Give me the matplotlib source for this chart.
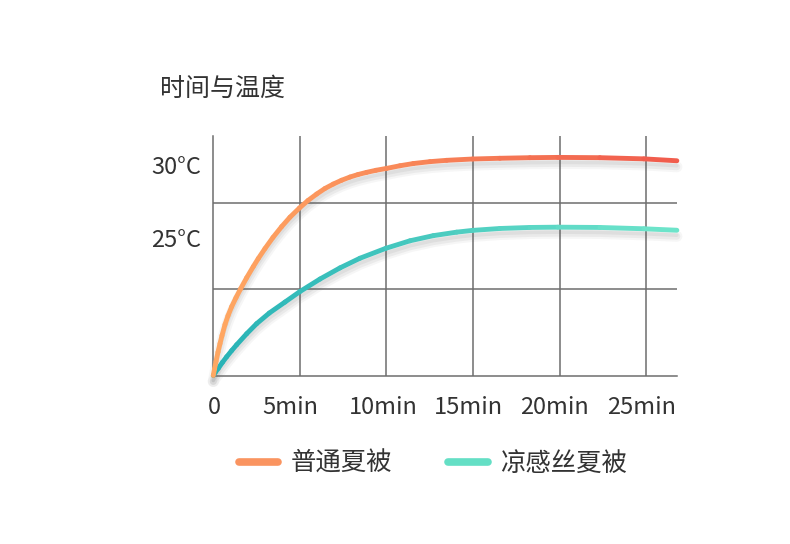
import numpy as np
import matplotlib
matplotlib.use("Agg")
import matplotlib.pyplot as plt
from matplotlib.collections import LineCollection
from matplotlib.colors import LinearSegmentedColormap
from matplotlib.lines import Line2D
import matplotlib.transforms as mtrans

plt.rcParams['font.family'] = ['Noto Sans CJK SC', 'DejaVu Sans']

# ---- data ----
title = "时间与温度"
series_names = ["普通夏被", "凉感丝夏被"]
x_ticks = [0, 5, 10, 15, 20, 25]
x_tick_labels = ["0", "5min", "10min", "15min", "20min", "25min"]
y_ticks = [25, 30]
y_tick_labels = ["25°C", "30°C"]
y_grid = [21.51, 27.39]

t_normal = [0, 0.069, 0.156, 0.271, 0.387, 0.502, 0.676, 0.849, 1.062, 1.311,
            1.570, 1.928, 2.309, 2.598, 2.985, 3.447, 3.949, 4.428, 4.977, 5.468,
            5.970, 6.449, 6.928, 7.408, 7.893, 8.355, 8.857, 9.394, 10.012, 10.779,
            11.547, 12.511, 13.476, 14.977, 16.553, 18.285, 19.902, 22.327, 24.867,
            26.772]
temp_normal = [15.64, 16.08, 16.60, 17.24, 17.82, 18.37, 19.12, 19.72, 20.34, 20.95,
               21.54, 22.31, 23.07, 23.62, 24.30, 25.06, 25.80, 26.44, 27.07, 27.58,
               28.02, 28.40, 28.70, 28.96, 29.18, 29.35, 29.50, 29.64, 29.77, 29.95,
               30.10, 30.23, 30.32, 30.41, 30.46, 30.50, 30.52, 30.50, 30.42, 30.29]

t_cool = [0, 0.127, 0.289, 0.531, 0.774, 1.062, 1.351, 1.928, 2.506, 3.233, 4.140,
          5.006, 6.161, 7.315, 8.470, 9.971, 11.357, 12.702, 14.053, 14.977, 16.553,
          18.285, 19.902, 22.327, 24.867, 26.772]
temp_cool = [15.64, 15.88, 16.13, 16.54, 16.92, 17.34, 17.74, 18.49, 19.18, 19.90,
             20.65, 21.37, 22.22, 22.98, 23.64, 24.32, 24.83, 25.18, 25.42, 25.54,
             25.67, 25.74, 25.76, 25.74, 25.65, 25.55]

# ---- figure ----
W, H, DPI = 790, 544, 100
fig = plt.figure(figsize=(W / DPI, H / DPI), dpi=DPI)
ax = fig.add_axes([213.3 / W, 1 - 375.5 / H, (677 - 213.3) / W, (375.5 - 136) / H])

ax.set_xlim(0, 26.78)
ax.set_ylim(15.64, 31.98)

text_color = "#333333"
grid_color = "#6e6e6e"

for s in ["top", "right"]:
    ax.spines[s].set_visible(False)
for s in ["left", "bottom"]:
    ax.spines[s].set_color(grid_color)
    ax.spines[s].set_linewidth(1.1)

for xv in x_ticks[1:]:
    ax.axvline(xv, color=grid_color, lw=1.1, zorder=1)
for yv in y_grid:
    ax.axhline(yv, color=grid_color, lw=1.1, zorder=1)

ax.set_xticks(x_ticks)
ax.set_xticklabels(x_tick_labels, fontsize=17, color=text_color)
ax.set_yticks(y_ticks)
ax.set_yticklabels(y_tick_labels, fontsize=17, color=text_color)
ax.tick_params(axis="both", length=0)
ax.tick_params(axis="x", pad=15)
ax.tick_params(axis="y", pad=9)
label_shift_px = [1, -10, -3, -5, -5, -5]
for lab, dx in zip(ax.get_xticklabels(), label_shift_px):
    off = mtrans.ScaledTranslation(dx / DPI, 0, fig.dpi_scale_trans)
    lab.set_transform(lab.get_transform() + off)


def gradient_line(x, y, c0, c1, z):
    x = np.asarray(x, float)
    y = np.asarray(y, float)
    pts = np.column_stack([x, y]).reshape(-1, 1, 2)
    segs = np.concatenate([pts[:-1], pts[1:]], axis=1)
    cmap = LinearSegmentedColormap.from_list("g", [c0, c1])
    lc = LineCollection(segs, cmap=cmap, linewidths=3.5, capstyle="round",
                        joinstyle="round", zorder=z, clip_on=False)
    lc.set_array((x[:-1] + x[1:]) / 2)
    lc.set_clim(x.min(), x.max())
    ax.add_collection(lc)
    # soft shadow
    for dy, lw, a in [(6, 8, 0.05), (6, 5, 0.07), (5, 2.5, 0.08)]:
        tr = ax.transData + mtrans.ScaledTranslation(0, -dy / DPI, fig.dpi_scale_trans)
        ax.plot(x, y, color="#555555", lw=lw, alpha=a, transform=tr,
                solid_capstyle="round", solid_joinstyle="round",
                zorder=z - 1, clip_on=False)


gradient_line(t_normal, temp_normal, "#ffa862", "#f05a4c", 4)
gradient_line(t_cool, temp_cool, "#27b2b6", "#70e6cb", 3)

fig.text(160 / W, 1 - 89 / H, title, fontsize=18, color=text_color,
         ha="left", va="center")

handles = [Line2D([0], [0], color="#fa9460", lw=5.5, solid_capstyle="round"),
           Line2D([0], [0], color="#64dfc5", lw=5.5, solid_capstyle="round")]
leg = fig.legend(handles, series_names, loc="center", ncol=2,
                 bbox_to_anchor=(433 / W, 1 - 464 / H), frameon=False,
                 fontsize=18.3, handlelength=1.55, handletextpad=0.5,
                 columnspacing=2.2)
for tx in leg.get_texts():
    tx.set_color(text_color)

fig.savefig("out.png", dpi=DPI)
